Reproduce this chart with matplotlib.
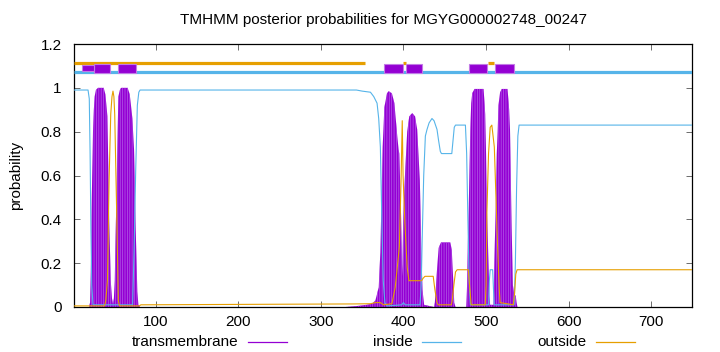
import matplotlib
matplotlib.use("Agg")
import matplotlib.pyplot as plt
from matplotlib.lines import Line2D
from matplotlib.patches import Rectangle

plt.rcParams['font.family'] = ['Liberation Sans', 'DejaVu Sans']
plt.rcParams['hatch.linewidth'] = 0.5

seq_len = 750
title = "TMHMM posterior probabilities for MGYG000002748_00247"

# posterior curves (residue, probability)
tm_x = [1, 19, 20.5, 21.5, 22.2, 23, 24, 25, 26, 27.5, 30, 37, 39, 41.5, 43.5, 45.5, 47,
        48.2, 49.3, 50.3, 52.7, 54.7, 56.5, 58, 66, 68.5, 70, 71.7, 73.7, 75.7, 77.7, 79,
        81, 330, 345, 355, 362, 366, 368, 370, 372, 373, 374.8, 376.8, 380, 382, 386, 389,
        392, 394, 395, 397, 398.5, 399.5, 401.5, 404.5, 407, 410.6, 414, 416.6, 419.8,
        421.5, 423, 425, 437, 438, 440.6, 442.6, 445.4, 456.7, 458.5, 460, 461.5, 463, 476,
        477, 478, 479, 480, 481, 482, 483.2, 486, 497, 499, 500, 501, 503, 504, 505, 509,
        510, 512, 513, 514, 515, 517, 519, 526, 528, 529, 531, 532.5, 534, 536, 537, 538,
        750]
tm_y = [0, 0, 0.02, 0.2, 0.4, 0.6, 0.8, 0.9, 0.96, 0.99, 1.0, 1.0, 0.97, 0.87, 0.42, 0.12,
        0.04, 0.015, 0.04, 0.12, 0.57, 0.96, 0.99, 1.0, 1.0, 0.97, 0.92, 0.86, 0.72, 0.36,
        0.07, 0.01, 0, 0, 0.005, 0.01, 0.015, 0.03, 0.06, 0.09, 0.25, 0.43, 0.73, 0.91,
        0.975, 0.985, 0.975, 0.93, 0.8, 0.72, 0.7, 0.43, 0.14, 0.38, 0.58, 0.8, 0.87, 0.885,
        0.87, 0.81, 0.58, 0.28, 0.08, 0.01, 0, 0.02, 0.17, 0.27, 0.295, 0.295, 0.26, 0.14,
        0.02, 0, 0, 0.1, 0.3, 0.45, 0.65, 0.81, 0.93, 0.975, 0.995, 0.995, 0.88, 0.7, 0.45,
        0.2, 0.05, 0.01, 0.01, 0.2, 0.5, 0.7, 0.8, 0.92, 0.98, 0.995, 0.995, 0.9, 0.81,
        0.36, 0.1, 0.06, 0.05, 0.02, 0, 0]

inside_x = [1, 18, 19.5, 20.5, 21.5, 22.5, 24, 72, 73.7, 75.7, 77.7, 79.5, 81, 343, 350,
            360, 364, 368, 370, 372, 373.5, 375.5, 377.5, 380, 398, 400, 402, 420, 421.5,
            422.6, 424.5, 426.5, 428.5, 431, 434.5, 437, 440.6, 442.5, 444.6, 446, 458.5,
            460, 461.5, 463, 475, 476.5, 478, 479.5, 481, 503, 504, 505, 508, 509, 510, 534,
            535.5, 537, 538.5, 540, 750]
inside_y = [0.99, 0.99, 0.95, 0.7, 0.35, 0.1, 0.01, 0.01, 0.25, 0.62, 0.92, 0.98, 0.99,
            0.99, 0.985, 0.98, 0.96, 0.93, 0.86, 0.73, 0.45, 0.12, 0.02, 0.005, 0.01, 0.02,
            0.01, 0.01, 0.1, 0.3, 0.6, 0.78, 0.81, 0.84, 0.86, 0.85, 0.81, 0.76, 0.71, 0.70,
            0.70, 0.76, 0.82, 0.83, 0.83, 0.7, 0.4, 0.12, 0.01, 0.01, 0.12, 0.17, 0.17, 0.08,
            0.01, 0.01, 0.2, 0.55, 0.78, 0.83, 0.83]

outside_x = [1, 38, 39.5, 41.5, 43.5, 45.5, 47, 48.2, 49.3, 50.3, 52.7, 54.7, 56, 80, 82,
             340, 360, 366, 372, 376, 386, 390, 393, 395, 397, 398.5, 399.5, 401.5, 404.5,
             406.6, 422, 423.5, 426, 436, 438, 440.6, 442, 458, 459, 461, 463, 465, 478.5,
             480, 482, 499, 500, 501, 503, 505, 507, 510, 512, 514, 516, 517, 533, 534.5,
             536, 537.6, 750]
outside_y = [0.005, 0.005, 0.03, 0.12, 0.58, 0.88, 0.96, 0.985, 0.96, 0.88, 0.43, 0.03,
             0.005, 0.005, 0.01, 0.014, 0.015, 0.02, 0.02, 0.01, 0.015, 0.09, 0.2, 0.275,
             0.565, 0.85, 0.6, 0.40, 0.18, 0.12, 0.12, 0.13, 0.14, 0.14, 0.08, 0.02, 0.01,
             0.01, 0.03, 0.1, 0.16, 0.17, 0.17, 0.1, 0.01, 0.01, 0.1, 0.43, 0.7, 0.82, 0.83,
             0.73, 0.5, 0.275, 0.08, 0.02, 0.01, 0.06, 0.15, 0.17, 0.17]

# predicted topology along the top (start, end)
top_outside = [(1, 353.5), (399.5, 403), (502, 509.6)]
top_inside = [(1, 750)]
top_tm = [(25.3, 44.6), (54.7, 76.5), (376.6, 399.4), (403, 422), (479, 501), (511, 533.5)]
top_tm_small = [(11, 25.3)]

purple = '#9400D3'
blue = '#56B4E9'
orange = '#E69F00'

fig = plt.figure(figsize=(7.2, 3.52), dpi=100)
ax = fig.add_axes([74 / 720, 1 - 307 / 352, 618.5 / 720, 263 / 352])

ax.fill_between(tm_x, 0, tm_y, facecolor=purple, edgecolor='#b45ee8', hatch='|||||||',
                linewidth=0, zorder=2)
ax.plot(inside_x, inside_y, color=blue, lw=0.8, zorder=3)
ax.plot(outside_x, outside_y, color=orange, lw=0.8, zorder=3)

for a, b in top_inside:
    ax.plot([a, b], [1.071, 1.071], color=blue, lw=2.3, solid_capstyle='butt', zorder=3)
for a, b in top_outside:
    ax.plot([a, b], [1.112, 1.112], color=orange, lw=2.3, solid_capstyle='butt', zorder=3)
for a, b in top_tm:
    ax.add_patch(Rectangle((a, 1.066), b - a, 0.045, facecolor=purple,
                           edgecolor='#c27ae6', lw=0.8, zorder=4))
for a, b in top_tm_small:
    ax.add_patch(Rectangle((a, 1.077), b - a, 0.027, facecolor=purple,
                           edgecolor='#c27ae6', lw=0.8, zorder=4))

ax.set_xlim(1, seq_len)
ax.set_ylim(0, 1.2)
ax.set_xticks([100, 200, 300, 400, 500, 600, 700])
ax.set_yticks([0, 0.2, 0.4, 0.6, 0.8, 1.0, 1.2])
ax.set_yticklabels(['0', '0.2', '0.4', '0.6', '0.8', '1', '1.2'])
ax.tick_params(direction='in', length=4, width=0.6, top=True, right=True,
               labelsize=11, color='#555555')
ax.tick_params(axis='x', pad=6)
ax.tick_params(axis='y', pad=9)
for s in ax.spines.values():
    s.set_linewidth(0.9)

fig.text(384 / 720, 1 - 20 / 352, title, ha='center', va='center', fontsize=11)
fig.text(16 / 720, 1 - 175 / 352, 'probability', ha='center', va='center',
         rotation=90, fontsize=11)

# legend below the axes
legend = [('transmembrane', purple, 238, 248, 287),
          ('inside', blue, 413, 422, 461),
          ('outside', orange, 587, 596, 635)]
ly = 1 - 341.5 / 352
for label, col, tx, l0, l1 in legend:
    fig.text(tx / 720, ly, label, ha='right', va='center', fontsize=11)
    fig.add_artist(Line2D([l0 / 720, l1 / 720], [ly, ly], color=col, lw=0.9))

fig.savefig('out.png', dpi=100)
